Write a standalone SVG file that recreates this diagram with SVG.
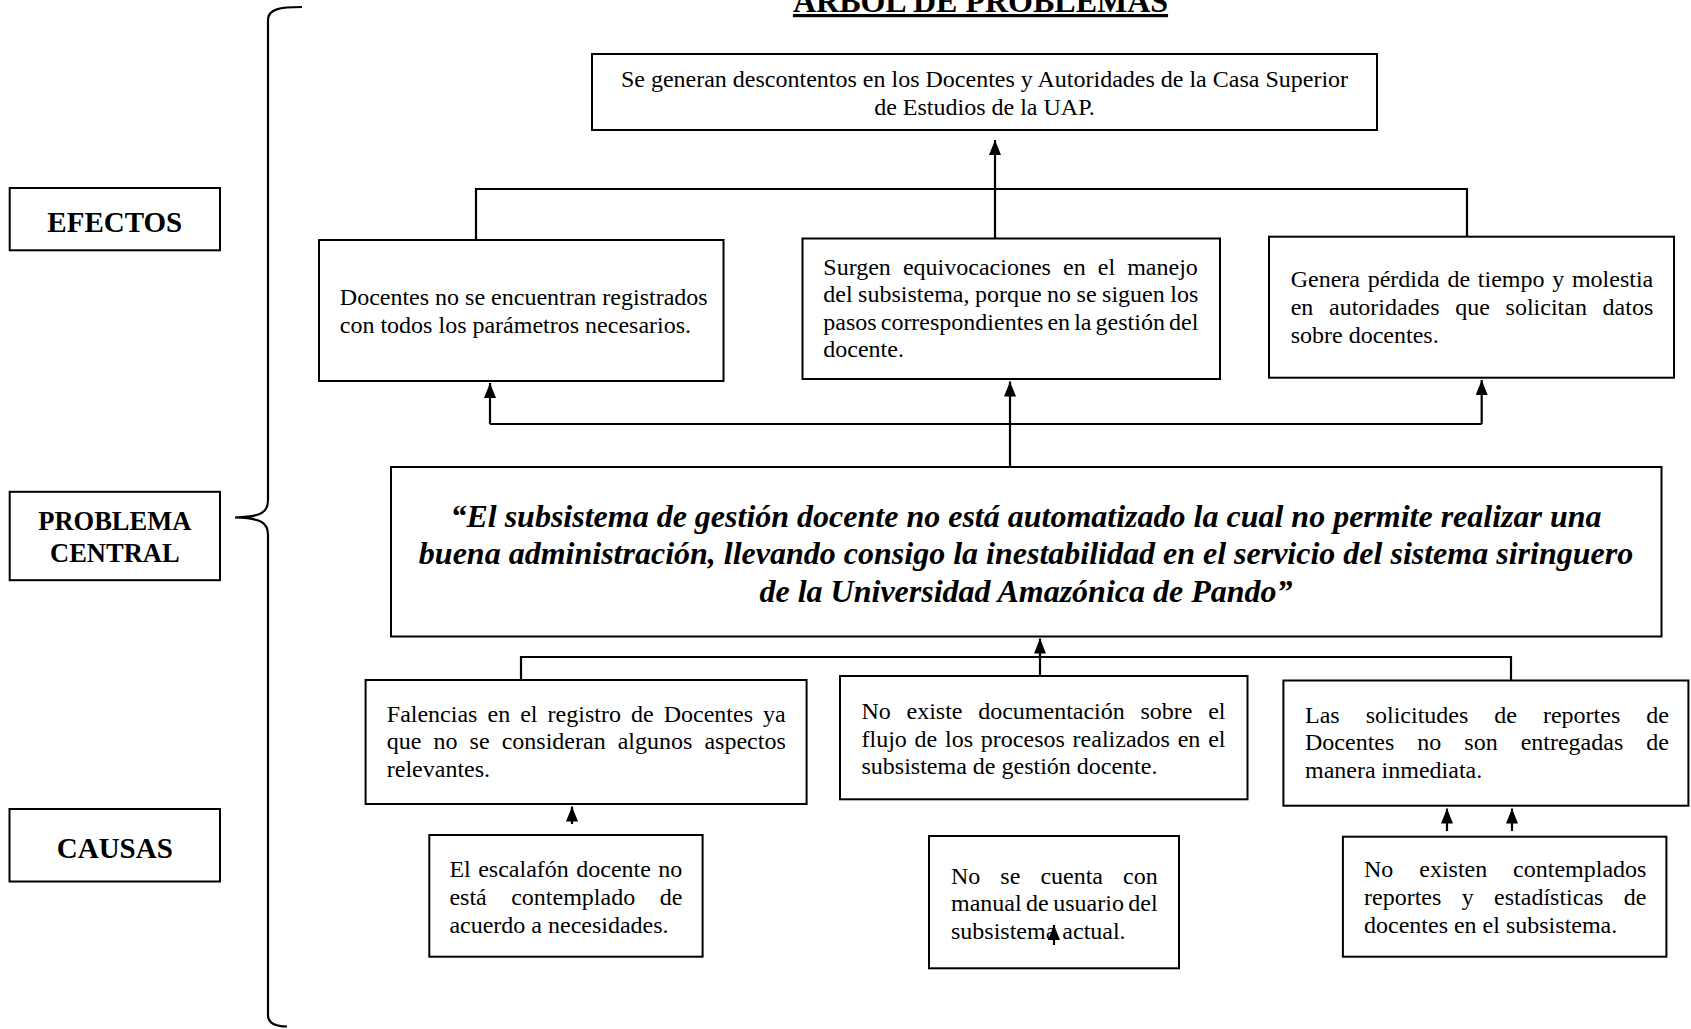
<svg xmlns="http://www.w3.org/2000/svg" width="1691" height="1029" viewBox="0 0 1691 1029">
<style>
.box{fill:#fff;stroke:#000;stroke-width:2}
.t{font-family:"Liberation Serif","Times New Roman",serif;font-size:24px;fill:#000}
.m{text-anchor:middle}
.lbl{font-family:"Liberation Serif","Times New Roman",serif;font-size:29px;font-weight:bold;text-anchor:middle;fill:#000}
.lbl2{font-size:26.5px}
.cen{font-family:"Liberation Serif","Times New Roman",serif;font-size:32px;font-weight:bold;font-style:italic;text-anchor:middle;fill:#000}
.title{font-family:"Liberation Serif","Times New Roman",serif;font-size:32px;font-weight:bold;text-anchor:middle;text-decoration:underline;fill:#000}
.conn{fill:none;stroke:#000;stroke-width:2.2}
.arr{marker-end:url(#ah)}
</style>
<defs>
<marker id="ah" viewBox="0 0 15 12" refX="15" refY="6" markerWidth="15" markerHeight="12" markerUnits="userSpaceOnUse" orient="auto">
<path d="M0,0 L15,6 L0,12 z" fill="#000"/>
</marker>
</defs>
<rect width="1691" height="1029" fill="#fff"/>

<text class="title" x="980.5" y="12">ARBOL DE PROBLEMAS</text>

<g id="brace">
<path class="conn" d="M302,7 C280,7 268,9 268,20 L268,500 C268,512 262,517 235,517.5 C262,518 268,523 268,535 L268,1015 C268,1024 276,1026.5 287,1026.5"/>
</g>

<g id="lbl-efectos"><rect class="box" x="9.7" y="188" width="210.3" height="62.3"/><text class="lbl" x="114.8" y="231.5">EFECTOS</text></g>
<g id="lbl-problema"><rect class="box" x="9.7" y="491.8" width="210.3" height="88.4"/><text class="lbl lbl2" x="114.8" y="530">PROBLEMA</text><text class="lbl lbl2" x="114.8" y="562">CENTRAL</text></g>
<g id="lbl-causas"><rect class="box" x="9.5" y="809" width="210.5" height="72.5"/><text class="lbl" x="114.8" y="858">CAUSAS</text></g>

<g id="efecto-top"><rect class="box" x="592" y="54" width="785" height="76"/>
<text class="t m" x="984.5" y="87">Se generan descontentos en los Docentes y Autoridades de la Casa Superior</text>
<text class="t m" x="984.5" y="114.6">de Estudios de la UAP.</text></g>

<g id="efecto-1"><rect class="box" x="319" y="240" width="404.5" height="141"/>
<text class="t" x="339.8" y="305">Docentes no se encuentran registrados</text>
<text class="t" x="339.8" y="332.6">con todos los parámetros necesarios.</text></g>

<g id="efecto-2"><rect class="box" x="802.5" y="238.5" width="417.5" height="140.5"/>
<text class="t" x="823.3" y="274.5" word-spacing="6.1">Surgen equivocaciones en el manejo</text>
<text class="t" x="823.3" y="302.1" word-spacing="-0.5">del subsistema, porque no se siguen los</text>
<text class="t" x="823.3" y="329.7" word-spacing="-1.9">pasos correspondientes en la gestión del</text>
<text class="t" x="823.3" y="357.3">docente.</text></g>

<g id="efecto-3"><rect class="box" x="1269" y="236.7" width="405" height="141"/>
<text class="t" x="1290.7" y="287.3" word-spacing="1.74">Genera pérdida de tiempo y molestia</text>
<text class="t" x="1290.7" y="314.9" word-spacing="9.66">en autoridades que solicitan datos</text>
<text class="t" x="1290.7" y="342.5">sobre docentes.</text></g>

<g id="problema-central"><rect class="box" x="391" y="467" width="1270.5" height="169.5"/>
<text class="cen" x="1026" y="527">“El subsistema de gestión docente no está automatizado la cual no permite realizar una</text>
<text class="cen" x="1026" y="564">buena administración, llevando consigo la inestabilidad en el servicio del sistema siringuero</text>
<text class="cen" x="1026" y="601.5">de la Universidad Amazónica de Pando”</text></g>

<g id="causa-1"><rect class="box" x="365.6" y="680" width="441" height="124"/>
<text class="t" x="386.8" y="721.5" word-spacing="4.07">Falencias en el registro de Docentes ya</text>
<text class="t" x="386.8" y="749.1" word-spacing="6.08">que no se consideran algunos aspectos</text>
<text class="t" x="386.8" y="776.7">relevantes.</text></g>

<g id="causa-2"><rect class="box" x="840" y="676" width="407.5" height="123.3"/>
<text class="t" x="861.5" y="719" word-spacing="9.68">No existe documentación sobre el</text>
<text class="t" x="861.5" y="746.6" word-spacing="1.79">flujo de los procesos realizados en el</text>
<text class="t" x="861.5" y="774.2">subsistema de gestión docente.</text></g>

<g id="causa-3"><rect class="box" x="1283.4" y="680.5" width="405" height="125.2"/>
<text class="t" x="1305" y="722.5" word-spacing="20">Las solicitudes de reportes de</text>
<text class="t" x="1305" y="750.1" word-spacing="17">Docentes no son entregadas de</text>
<text class="t" x="1305" y="777.7">manera inmediata.</text></g>

<g id="subcausa-1"><rect class="box" x="429.3" y="835" width="273.3" height="121.7"/>
<text class="t" x="449.4" y="877.3" word-spacing="1.47">El escalafón docente no</text>
<text class="t" x="449.4" y="904.9" word-spacing="18.5">está contemplado de</text>
<text class="t" x="449.4" y="932.5">acuerdo a necesidades.</text></g>

<g id="subcausa-2"><rect class="box" x="929" y="836" width="250" height="132.3"/>
<text class="t" x="951" y="883.5" word-spacing="14.03">No se cuenta con</text>
<text class="t" x="951" y="911.1" word-spacing="-1.53">manual de usuario del</text>
<text class="t" x="951" y="938.7">subsistema actual.</text></g>

<g id="subcausa-3"><rect class="box" x="1342.9" y="836.7" width="323.5" height="120"/>
<text class="t" x="1364" y="877.3" word-spacing="19.9">No existen contemplados</text>
<text class="t" x="1364" y="904.9" word-spacing="14.4">reportes y estadísticas de</text>
<text class="t" x="1364" y="932.5">docentes en el subsistema.</text></g>

<g id="connectors">
<path class="conn arr" d="M995,238.5 L995,140"/>
<path class="conn" d="M476,240 L476,189 L1467,189 L1467,236.7"/>
<path class="conn" d="M490,424 L1481.7,424"/>
<path class="conn arr" d="M490,424 L490,383"/>
<path class="conn arr" d="M1010,467 L1010,381.5"/>
<path class="conn arr" d="M1481.7,424 L1481.7,380"/>
<path class="conn" d="M521,680 L521,657 L1511,657 L1511,680.5"/>
<path class="conn arr" d="M1040,676 L1040,638.5"/>
<path class="conn arr" d="M572,824 L572,806.5"/>
<path class="conn arr" d="M1447,831 L1447,808.5"/>
<path class="conn arr" d="M1512,831 L1512,808.5"/>
<path class="conn arr" d="M1054,945 L1054,925"/>
</g>
</svg>
